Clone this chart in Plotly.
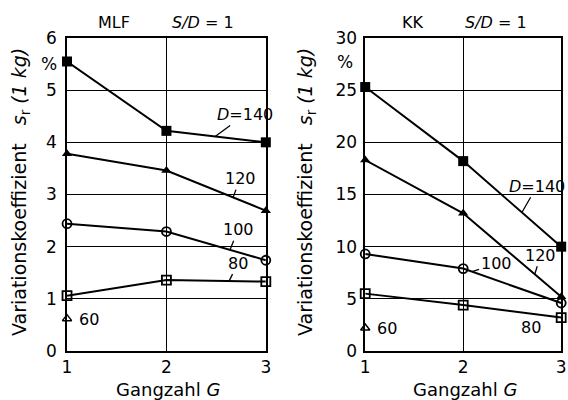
import plotly.graph_objects as go

G = [1, 2, 3]
# MLF panel
mlf_140 = [5.55, 4.22, 4.0]
mlf_120 = [3.78, 3.46, 2.69]
mlf_100 = [2.44, 2.29, 1.74]
mlf_80 = [1.06, 1.36, 1.33]
mlf_60 = [0.62]
# KK panel
kk_140 = [25.3, 18.2, 10.0]
kk_120 = [18.3, 13.2, 5.2]
kk_100 = [9.3, 7.9, 4.6]
kk_80 = [5.5, 4.4, 3.2]
kk_60 = [2.2]

mlf_ticks = [0, 1, 2, 3, 4, 5, 6]
kk_ticks = [0, 5, 10, 15, 20, 25, 30]

FONT = "DejaVu Sans"
fig = go.Figure()

styles = {
    140: dict(symbol="square", color="black", size=10),
    120: dict(symbol="triangle-up", color="black", size=9),
    100: dict(symbol="circle-open", color="black", size=9, line=dict(width=1.8, color="black")),
    80: dict(symbol="square-open", color="black", size=9, line=dict(width=1.8, color="black")),
    60: dict(symbol="triangle-up-open", color="black", size=8, line=dict(width=1.5, color="black")),
}

def add(series, xa, ya):
    for d, vals in series:
        fig.add_trace(go.Scatter(
            x=G[:len(vals)], y=vals, xaxis=xa, yaxis=ya,
            mode="lines+markers", line=dict(color="black", width=2),
            marker=styles[d], showlegend=False, cliponaxis=False))

add([(140, mlf_140), (120, mlf_120), (100, mlf_100), (80, mlf_80), (60, mlf_60)], "x", "y")
add([(140, kk_140), (120, kk_120), (100, kk_100), (80, kk_80), (60, kk_60)], "x2", "y2")

ax_common = dict(showline=True, linecolor="black", linewidth=1.5, mirror=True,
                 showgrid=True, gridcolor="black", gridwidth=1, zeroline=False,
                 automargin=False, ticks="",
                 tickfont=dict(family=FONT, size=17, color="black"))

fig.update_layout(
    width=568, height=400, margin=dict(l=0, r=0, t=0, b=0),
    paper_bgcolor="white", plot_bgcolor="white",
    xaxis=dict(domain=[0.118, 0.468], range=[1, 3], tickvals=G, anchor="y", **ax_common),
    yaxis=dict(domain=[0.1225, 0.905], range=[0, 6], tickvals=mlf_ticks, anchor="x",
               ticklabelstandoff=5, **ax_common),
    xaxis2=dict(domain=[0.643, 0.988], range=[1, 3], tickvals=G, anchor="y2", **ax_common),
    yaxis2=dict(domain=[0.1225, 0.905], range=[0, 30], tickvals=kk_ticks, anchor="x2",
                ticklabelstandoff=3, **ax_common),
)

tf = dict(family=FONT, size=16, color="black")
ann = []
def txt(x, y, t, xref="paper", yref="paper", size=16, **kw):
    a = dict(x=x, y=y, text=t, xref=xref, yref=yref, showarrow=False,
             xanchor="center", yanchor="middle",
             font=dict(family=FONT, size=size, color="black"))
    a.update(kw)
    ann.append(a)

# titles
txt(114/568, 1-22/400, "MLF")
txt(203/568, 1-22/400, "<i>S/D</i> = 1")
txt(412/568, 1-22/400, "KK")
txt(496/568, 1-22/400, "<i>S/D</i> = 1")
# x titles
txt(168/568, 1-389/400, "Gangzahl <i>G</i>", size=18)
txt(465/568, 1-389/400, "Gangzahl <i>G</i>", size=18)
# y titles
ytitle = "Variationskoeffizient   <i>s</i><sub>r</sub> <i>(1 kg)</i>"
txt(20/568, 1-192/400, ytitle, textangle=-90, size=19)
txt(306/568, 1-192/400, ytitle, textangle=-90, size=19)
# percent signs
txt(49/568, 1-64/400, "%", size=17)
txt(345/568, 1-62/400, "%", size=17)

def lab(x, y, t, xr, yr, axp=None):
    a = dict(x=x, y=y, text=t, xref=xr, yref=yr, font=tf)
    if axp:
        a.update(showarrow=True, arrowhead=0, arrowwidth=1.3, arrowcolor="black",
                 ax=axp[0], ay=axp[1], xanchor="center", yanchor="middle")
    else:
        a.update(showarrow=False, xanchor="center", yanchor="middle")
    ann.append(a)

lab(2.49, 4.11, "<i>D</i>=140", "x", "y", (30, -22))
lab(2.67, 2.94, "120", "x", "y", (7, -19))
lab(2.64, 1.94, "100", "x", "y", (8, -20))
lab(2.63, 1.34, "80", "x", "y", (9, -18))
lab(1.22, 0.6, "60", "x", "y")

lab(2.60, 13.3, "<i>D</i>=140", "x2", "y2", (15, -26))
lab(2.73, 7.36, "120", "x2", "y2", (6, -19))
lab(2.09, 7.6, "100", "x2", "y2", (24, -8))
lab(2.69, 2.3, "80", "x2", "y2")
lab(1.22, 2.2, "60", "x2", "y2")

fig.update_layout(annotations=ann)
fig.write_html("out.html", config={"displayModeBar": False},
               post_script="document.body.style.margin='0';document.body.style.overflow='hidden';")
